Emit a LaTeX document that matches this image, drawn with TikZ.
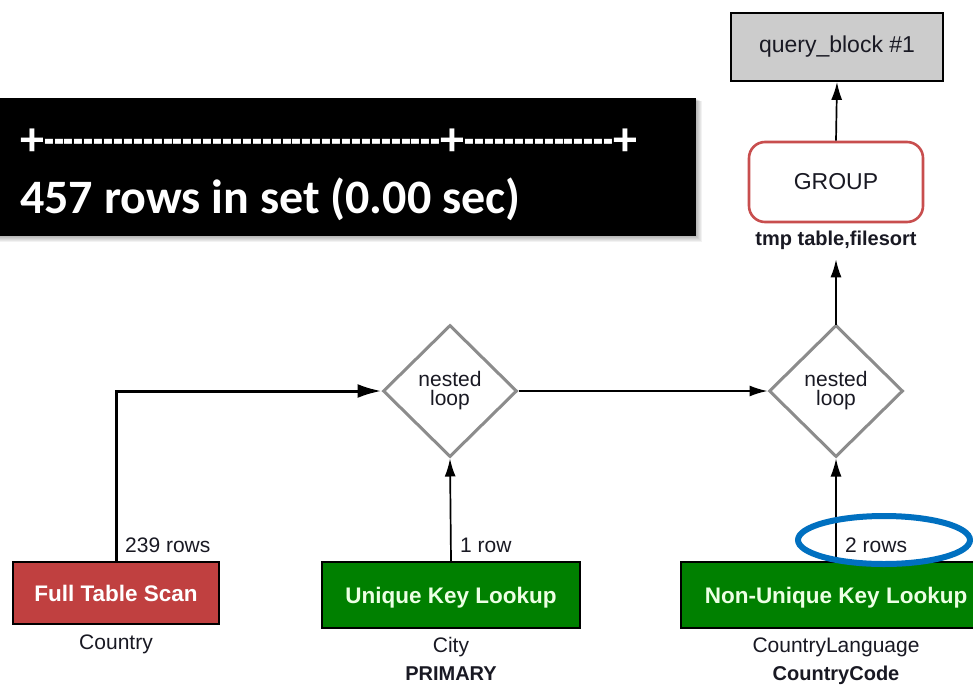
\documentclass[tikz,border=0pt]{standalone}
\usepackage{fontspec}
\usepackage{graphicx}
\setmainfont{Liberation Sans}
\newfontfamily\consolefont{Carlito}
\usetikzlibrary{shapes.geometric,arrows.meta,calc}

\definecolor{scanred}{RGB}{192,64,64}
\definecolor{lookupgreen}{RGB}{0,128,0}
\definecolor{lookuptext}{RGB}{236,255,228}
\definecolor{groupred}{RGB}{200,78,78}
\definecolor{loopgray}{RGB}{140,140,140}
\definecolor{blockgray}{RGB}{204,204,204}
\definecolor{markblue}{RGB}{0,112,192}
\definecolor{labeltext}{RGB}{25,25,35}

% a run of separate hyphens (kept apart so no dash ligature forms)
\newcommand\dashrun[1]{\scalebox{0.675}[1]{\foreach\k in {1,...,#1}{\hbox{-}}}}

\tikzset{
  lbl/.style={inner sep=0pt, text=labeltext, font=\fontsize{21}{24}\selectfont},
  lblb/.style={lbl, font=\fontsize{20}{24}\selectfont\bfseries},
  accessbox/.style={draw=black, line width=1.8pt, inner sep=0pt,
    text height=16pt, text depth=0pt, font=\fontsize{22.5}{26}\selectfont\bfseries},
  scanbox/.style={accessbox, fill=scanred, text=white},
  lookupbox/.style={accessbox, fill=lookupgreen, text=lookuptext},
  loopnode/.style={diamond, draw=loopgray, line width=3pt, fill=white,
    minimum width=134pt, minimum height=132pt, inner sep=0pt, align=center,
    text=labeltext, font=\fontsize{21}{19}\selectfont},
  flow/.style={line width=1.7pt, -{Latex[length=18pt,width=11pt]}},
  thickflow/.style={line width=3pt, -{Latex[length=24pt,width=14pt]}},
  console/.style={inner sep=0pt, anchor=base west, text=white,
    font=\consolefont\fontsize{48}{50}\selectfont\bfseries}
}

\begin{document}
\begin{tikzpicture}[x=1pt, y=-1pt]
\useasboundingbox (0,0) rectangle (973,685);
\fill[white] (0,0) rectangle (973,685);

% query block and grouping step
\node[draw=black, line width=1.8pt, fill=blockgray, minimum width=212pt, minimum height=68pt,
      inner sep=0pt, text=labeltext, font=\fontsize{23}{26}\selectfont] (qb) at (837,47) {query\_block \#1};
\node[draw=groupred, line width=2.6pt, rounded corners=16pt, fill=white, minimum width=174pt,
      minimum height=80pt, inner sep=0pt, text=labeltext, font=\fontsize{23}{26}\selectfont] (grp) at (836,182) {GROUP};
\node[lblb, anchor=base] (tmp) at (836,245) {tmp table,filesort};

% nested loop joins
\node[loopnode] (d1) at (450,391) {nested\\loop};
\node[loopnode] (d2) at (836,391) {nested\\loop};

% table access steps
\node[scanbox, minimum width=206pt, minimum height=62pt] (fts) at (116,593) {Full Table Scan};
\node[lookupbox, minimum width=258pt, minimum height=66pt] (ukl) at (451,595) {Unique Key Lookup};
\node[lookupbox, minimum width=310pt, minimum height=66pt] (nukl) at (836,595) {Non-Unique Key Lookup};

% table and key names
\node[lbl, anchor=base] (tcountry) at (116,649) {Country};
\node[lbl, anchor=base] (tcity) at (451,652) {City};
\node[lblb, anchor=base] (tprimary) at (451,680) {PRIMARY};
\node[lbl, anchor=base] (tcl) at (836,652) {CountryLanguage};
\node[lblb, anchor=base] (tcc) at (836,680) {CountryCode};

% row counts
\node[lbl, anchor=base west] (r239) at (125,552) {239 rows};
\node[lbl, anchor=base west] (r1) at (460,552) {1 row};
\node[lbl, anchor=base west] (r2) at (845,552) {2 rows};

% connectors
\coordinate (bend) at (fts.north |- d1.west);
\draw[thickflow] (fts.north) -- (bend) -- (d1.west);
\draw[flow] (ukl.north) -- (d1.south);
\draw[flow] (d1.east) -- (d2.west);
\draw[flow] (nukl.north) -- (d2.south);
\draw[flow] ([yshift=-1pt]d2.north) -- ([yshift=-10pt]tmp.south);
\draw[flow] (grp.north) -- (qb.south);

% result banner with soft shadow
\foreach \s in {1,...,6}
  \fill[black, opacity=0.05] (0,98+0.5*\s) rectangle (696+\s,236+\s);
\fill[black] (0,98) rectangle (696,236);
\node[console] (sep) at (20,155) {+\dashrun{40}+\dashrun{15}+};
\node[console] (result) at (20,213) {457 rows in set (0.00 sec)};

% highlight ring
\node[ellipse, draw=markblue, line width=6pt, minimum width=172pt, minimum height=48pt, inner sep=0pt] (ring) at (884,540) {};
\end{tikzpicture}
\end{document}
